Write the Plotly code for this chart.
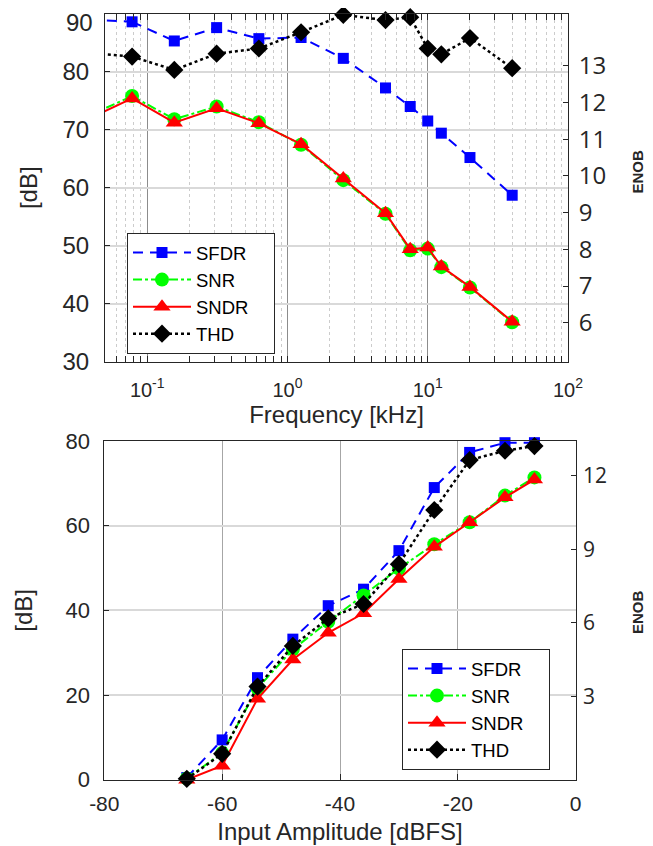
import math
import plotly.graph_objects as go

# ---------------- data: top chart (vs frequency) ----------------
freq_khz = [0.039, 0.078, 0.156, 0.3125, 0.625, 1.25, 2.5, 5, 7.5, 10, 12.5, 20, 40]
sfdr_f = [89.0, 88.6, 85.3, 87.6, 85.7, 85.9, 82.3, 77.2, 74.0, 71.5, 69.4, 65.2, 58.7]
snr_f = [72.5, 75.8, 71.8, 74.0, 71.3, 67.4, 61.3, 55.5, 49.2, 49.5, 46.3, 42.8, 36.8]
sndr_f = [72.0, 75.4, 71.2, 73.7, 71.1, 67.5, 61.6, 55.6, 49.4, 49.7, 46.4, 42.9, 36.9]
thd_f = [83.2, 82.6, 80.3, 83.1, 84.0, 86.8, 89.8, 88.9, 89.4, 84.0, 83.0, 85.8, 80.6]

# ---------------- data: bottom chart (vs input amplitude) ----------------
amp_dbfs = [-66, -60, -54, -48, -42, -36, -30, -24, -18, -12, -7]
sfdr_a = [0.5, 9.4, 24.1, 33.2, 41.1, 45.0, 54.1, 69.0, 77.3, 79.6, 79.6]
snr_a = [0.3, 6.3, 21.6, 30.8, 37.3, 43.5, 49.9, 55.6, 60.8, 67.1, 71.4]
sndr_a = [0.0, 3.3, 19.1, 28.4, 34.7, 39.3, 47.4, 55.0, 60.8, 66.7, 70.9]
thd_a = [0.2, 6.1, 22.0, 31.6, 38.1, 41.5, 50.9, 63.7, 75.5, 77.7, 78.8]

# tick labels
freq_tickvals = [0.1, 1, 10, 100]
freq_ticktext = ["10<sup>-1</sup>", "10<sup>0</sup>", "10<sup>1</sup>", "10<sup>2</sup>"]
db_top_tickvals = [30, 40, 50, 60, 70, 80, 90]
db_top_ticktext = ["30", "40", "50", "60", "70", "80", ""]
db_top_last = 90  # label drawn slightly lowered so it stays inside the page
amp_tickvals = [-80, -60, -40, -20, 0]
amp_ticktext = ["-80", "-60", "-40", "-20", "0"]
enob_top_ticks = [6, 7, 8, 9, 10, 11, 12, 13]
enob_bot_ticks = [3, 6, 9, 12]

series_names = ["SFDR", "SNR", "SNDR", "THD"]
styles = {
    "SFDR": dict(color="#0000ff", dash="10px,7px", symbol="square", size=11, width=2),
    "SNR": dict(color="#00ff00", dash="dashdot", symbol="circle", size=14, width=2),
    "SNDR": dict(color="#ff0000", dash="solid", symbol="triangle-up", size=15, width=2),
    "THD": dict(color="#000000", dash="dot", symbol="diamond", size=14, width=2.5),
}

FONT = "Liberation Sans"
AX = "#262626"

# page body has an 8px margin: the figure starts 8px in from the window corner
W, H, OFF = 645, 838, 8


def fx(px):
    return (px - OFF) / W


def fy(py):
    return 1 - (py - OFF) / H


fig = go.Figure()

top_data = {"SFDR": sfdr_f, "SNR": snr_f, "SNDR": sndr_f, "THD": thd_f}
bot_data = {"SFDR": sfdr_a, "SNR": snr_a, "SNDR": sndr_a, "THD": thd_a}
pad = "\u00a0\u00a0\u00a0\u00a0"

# top chart: segment to first (off-range) point, clipped
for name in series_names:
    s = styles[name]
    fig.add_trace(go.Scatter(
        x=freq_khz[:2], y=top_data[name][:2], mode="lines",
        line=dict(color=s["color"], dash=s["dash"], width=s["width"]),
        showlegend=False, hoverinfo="skip", cliponaxis=True,
        xaxis="x", yaxis="y"))
for name in series_names:
    s = styles[name]
    fig.add_trace(go.Scatter(
        x=freq_khz[1:], y=top_data[name][1:], mode="lines+markers", name=name + pad,
        line=dict(color=s["color"], dash=s["dash"], width=s["width"]),
        marker=dict(symbol=s["symbol"], size=s["size"], color=s["color"]),
        cliponaxis=False, legend="legend", xaxis="x", yaxis="y"))

for name in series_names:
    s = styles[name]
    fig.add_trace(go.Scatter(
        x=amp_dbfs, y=bot_data[name], mode="lines+markers", name=name + pad,
        line=dict(color=s["color"], dash=s["dash"], width=s["width"]),
        marker=dict(symbol=s["symbol"], size=s["size"], color=s["color"]),
        cliponaxis=False, legend="legend2", xaxis="x2", yaxis="y2"))

# invisible traces to activate the ENOB axes
fig.add_trace(go.Scatter(x=[None], y=[None], xaxis="x", yaxis="y3", showlegend=False))
fig.add_trace(go.Scatter(x=[None], y=[None], xaxis="x2", yaxis="y4", showlegend=False))

minor_vals = [m * 10 ** e for e in range(-2, 2) for m in range(2, 10)]

common = dict(showline=True, linecolor=AX, linewidth=1, zeroline=False, automargin=False,
              ticks="inside", tickcolor=AX)


def tf(size, family=FONT):
    return dict(family=family, color=AX, size=size)


legend_common = dict(xanchor="left", yanchor="top", bgcolor="white",
                     bordercolor=AX, borderwidth=1,
                     font=dict(size=18.5, family=FONT, color="#000000"),
                     tracegroupgap=0, itemwidth=58)

fig.update_layout(
    width=W, height=H,
    margin=dict(l=0, r=0, t=0, b=0, autoexpand=False),
    plot_bgcolor="white", paper_bgcolor="white",
    font=dict(family=FONT, color=AX),
    xaxis=dict(**common, tickfont=tf(20),
               domain=[fx(105), fx(568)], anchor="y", type="log",
               range=[math.log10(0.05), 2],
               tickmode="array", tickvals=freq_tickvals, ticktext=freq_ticktext,
               ticklen=6, mirror="allticks", ticklabelstandoff=10,
               showgrid=True, gridcolor="#8c8c8c", gridwidth=1,
               minor=dict(tickmode="array", tickvals=minor_vals, ticks="inside",
                          ticklen=3, tickcolor=AX, showgrid=True,
                          gridcolor="#cccccc", griddash="dot", gridwidth=1),
               title=dict(text="Frequency [kHz]", font=tf(24), standoff=1)),
    yaxis=dict(**common, tickfont=tf(24),
               domain=[fy(361.7), fy(13.7)], anchor="x", range=[30, 90],
               tickmode="array", tickvals=db_top_tickvals, ticktext=db_top_ticktext,
               ticklen=5, mirror=True, ticklabelstandoff=10,
               showgrid=True, gridcolor="#d9d9d9", gridwidth=2,
               title=dict(text="[dB]", font=tf(24), standoff=18)),
    yaxis3=dict(**common, tickfont=tf(24, "Open Sans"),
                overlaying="y", side="right", anchor="x",
                range=[4.94, 14.42], tickmode="array", tickvals=enob_top_ticks,
                ticklen=5, showgrid=False, ticklabelstandoff=5),
    xaxis2=dict(**common, tickfont=tf(21),
                domain=[fx(104.3), fx(575.7)], anchor="y2", range=[-80, 0],
                tickmode="array", tickvals=amp_tickvals, ticktext=amp_ticktext,
                ticklen=6, mirror=True, ticklabelstandoff=5,
                showgrid=True, gridcolor="#a6a6a6", gridwidth=1,
                title=dict(text="Input Amplitude [dBFS]", font=tf(24), standoff=9)),
    yaxis2=dict(**common, tickfont=tf(22),
                domain=[fy(779.7), fy(441)], anchor="x2", range=[0, 80], dtick=20,
                ticklen=5, mirror=True, ticklabelstandoff=9,
                showgrid=True, gridcolor="#d9d9d9", gridwidth=1.5,
                title=dict(text="[dB]", font=tf(24), standoff=26)),
    yaxis4=dict(**common, tickfont=tf(21, "Open Sans"),
                overlaying="y2", side="right", anchor="x2",
                range=[-0.4, 13.42], tickmode="array", tickvals=enob_bot_ticks,
                ticklen=5, showgrid=False, ticklabelstandoff=2),
    legend=dict(x=fx(127), y=fy(233), **legend_common),
    legend2=dict(x=fx(402), y=fy(649), **legend_common),
)

fig.add_annotation(
    x=0, xref="x domain", y=db_top_last, yref="y", text=str(db_top_last),
    showarrow=False, xanchor="right", yanchor="middle",
    xshift=-10, yshift=-9, font=tf(24))

# right-hand axis titles
for xpx, ypx in [(637.0, 171.5), (637.0, 612.0)]:
    fig.add_annotation(
        x=fx(xpx), xref="paper", y=fy(ypx), yref="paper", text="<b>ENOB</b>",
        textangle=-90, showarrow=False, xanchor="center", yanchor="middle",
        font=tf(15))

fig.write_html("out.html")
